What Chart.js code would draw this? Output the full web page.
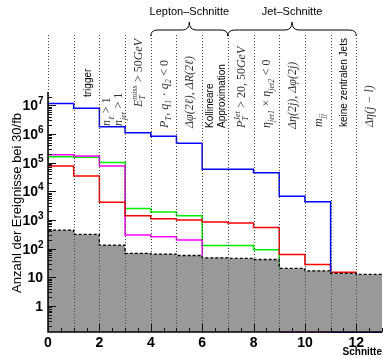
<!DOCTYPE html>
<html>
<head>
<meta charset="utf-8">
<script src="https://cdn.jsdelivr.net/npm/chart.js@4"></script>
<style>
html,body{margin:0;padding:0;background:#fff;}
canvas{display:block;}
</style>
</head>
<body>
<canvas id="c" width="383" height="358"></canvas>
<script>
// ---- data (bin lower edges = cut index) ----
const cuts = [0,1,2,3,4,5,6,7,8,9,10,11,12];
const xTickLabels = ['0','2','4','6','8','10','12'];
const yTickLabels = ['1','10','10^2','10^3','10^4','10^5','10^6','10^7'];
const blueVals    = [1.15e7, 7.8e6, 1.8e6, 1.1e6, 8.4e5, 4.7e5, 5.9e4, 5.9e4, 4.4e4, 6.8e3, 4.3e3, 0, 0];
const redVals     = [7.7e4, 3.4e4, 4.2e3, 1.4e3, 1.1e3, 1.0e3, 850, 790, 550, 63, 28, 15, 8.1];
const greenVals   = [1.6e5, 1.55e5, 1.02e5, 2.5e3, 1.9e3, 1.4e3, 130, 130, 92, 3.4, 3.4, 1.66, 0];
const magentaVals = [1.9e5, 1.7e5, 7.7e4, 300, 260, 200, 15, 15, 3.25, 0, 0, 0, 0];
const grayVals    = [445, 315, 134, 69, 65, 58, 48, 46, 42, 20.6, 17, 13.8, 12.7];

const yTitle = 'Anzahl der Ereignisse bei 30/fb';
const xTitle = 'Schnitte';
const groupTitles = ['Lepton\u2013Schnitte', 'Jet\u2013Schnitte'];

// cut labels: one entry per bin, each a list of text columns made of segments
const cutLabels = [
  null,
  [[{t:'trigger', f:'s'}]],
  [[{t:'n',f:'i'},{sub:'\u2113'},{t:' > 1',f:'r'}], [{t:'n',f:'i'},{sub:'jet'},{t:' > 1',f:'r'}]],
  [[{t:'E',f:'i'},{sub:'T',sup:'miss'},{t:' > 50',f:'r'},{t:'GeV',f:'i'}]],
  [[{t:'P',f:'i'},{sub:'T'},{t:', ',f:'r'},{t:'q',f:'i'},{sub:'1'},{t:' \u00b7 ',f:'r'},{t:'q',f:'i'},{sub:'2'},{t:' < 0',f:'r'}]],
  [[{t:'\u0394\u03c6(2\u2113), \u0394R(2\u2113)',f:'i'}]],
  [[{t:'Kollineare',f:'s'}],[{t:'Approximation',f:'s'}]],
  [[{t:'P',f:'i'},{sub:'T',sup:'Jet'},{t:' > 20, 50',f:'r'},{t:'GeV',f:'i'}]],
  [[{t:'\u03b7',f:'i'},{sub:'jet1'},{t:' \u00d7 ',f:'r'},{t:'\u03b7',f:'i'},{sub:'jet2'},{t:' < 0',f:'r'}]],
  [[{t:'\u0394\u03b7(2j), \u0394\u03c6(2j)',f:'i'}]],
  [[{t:'m',f:'i'},{sub:'jj'}]],
  [[{t:'keine zentralen Jets',f:'s'}]],
  [[{t:'\u0394\u03b7(j \u2212 l)',f:'i'}]]
];

const YMIN = 0.125, YMAX = 2.9e7, XMIN = 0, XMAX = 13;

function hist(vals){
  const pts = cuts.map((c,i)=>({x:c, y: vals[i] > 0 ? vals[i] : YMIN}));
  pts.push({x: cuts[cuts.length-1]+1, y: pts[pts.length-1].y});
  return pts;
}

// layout (not data)
const labelBottom = [0, 97, 126, 107, 128, 128, 128, 128, 128, 129, 127, 127, 127];

function fontFor(f, fs){
  if (f === 's') return fs + 'px "Liberation Sans", Arial, sans-serif';
  if (f === 'r') return fs + 'px "Liberation Serif", "Times New Roman", serif';
  return 'italic ' + fs + 'px "Liberation Serif", "Times New Roman", serif';
}

function drawSegs(ctx, segs, fs){
  let cx = 0;
  for (const s of segs){
    if (s.t !== undefined){
      const size = s.f === 's' ? 10 : fs;
      ctx.font = fontFor(s.f, size);
      ctx.fillStyle = s.f === 's' ? '#000' : '#333';
      ctx.fillText(s.t, cx, 0);
      cx += ctx.measureText(s.t).width;
    } else {
      const fss = Math.round(fs*0.7);
      ctx.font = fontFor('i', fss);
      ctx.fillStyle = '#333';
      let w = 0;
      if (s.sub){ ctx.fillText(s.sub, cx, fs*0.28); w = Math.max(w, ctx.measureText(s.sub).width); }
      if (s.sup){ ctx.fillText(s.sup, cx, -fs*0.42); w = Math.max(w, ctx.measureText(s.sup).width); }
      cx += w + 0.5;
    }
  }
}

const decor = {
  id: 'decor',
  afterDatasetsDraw(chart){
    const ctx = chart.ctx;
    const xs = chart.scales.x, ys = chart.scales.y;
    const a = chart.chartArea;
    ctx.save();
    // dotted cut lines
    ctx.strokeStyle = '#444';
    ctx.lineWidth = 1;
    ctx.setLineDash([1,2]);
    for (const c of cuts){
      const px = Math.round(xs.getPixelForValue(c)) + 0.5;
      ctx.beginPath(); ctx.moveTo(px, 35); ctx.lineTo(px, a.bottom); ctx.stroke();
    }
    ctx.setLineDash([]);
    // axes
    ctx.strokeStyle = '#000';
    ctx.lineWidth = 1.5;
    ctx.beginPath();
    ctx.moveTo(a.left, a.top); ctx.lineTo(a.left, a.bottom); ctx.lineTo(a.right, a.bottom);
    ctx.stroke();
    // y ticks
    ctx.lineWidth = 1;
    ctx.strokeStyle = '#111';
    for (let d = -1; d <= 7; d++){
      for (let m = 1; m <= 9; m++){
        const v = m * Math.pow(10, d);
        if (v < YMIN || v > YMAX) continue;
        const py = Math.round(ys.getPixelForValue(v)) + 0.5;
        const len = m === 1 ? 8 : 4;
        ctx.beginPath(); ctx.moveTo(a.left, py); ctx.lineTo(a.left + len, py); ctx.stroke();
      }
    }
    // x ticks
    for (let v = XMIN; v <= XMAX; v += 0.5){
      const px = Math.round(xs.getPixelForValue(v)) + 0.5;
      const len = (v % 2 === 0) ? 8 : 4;
      ctx.beginPath(); ctx.moveTo(px, a.bottom); ctx.lineTo(px, a.bottom - len); ctx.stroke();
    }
    // y tick labels
    ctx.fillStyle = '#000';
    ctx.textBaseline = 'alphabetic';
    yTickLabels.forEach((lab, i) => {
      const py = ys.getPixelForValue(Math.pow(10, i));
      const parts = lab.split('^');
      ctx.font = 'bold 14px "Liberation Sans", Arial, sans-serif';
      if (parts.length === 1){
        ctx.textAlign = 'right';
        ctx.fillText(parts[0], 43, py + 5);
      } else {
        ctx.textAlign = 'right';
        ctx.fillText(parts[0], 38, py + 5);
        ctx.font = 'bold 10px "Liberation Sans", Arial, sans-serif';
        ctx.textAlign = 'left';
        ctx.fillText(parts[1], 38, py - 1);
      }
    });
    // x tick labels
    ctx.font = 'bold 14px "Liberation Sans", Arial, sans-serif';
    ctx.textAlign = 'center';
    xTickLabels.forEach(lab => {
      const px = xs.getPixelForValue(parseFloat(lab));
      ctx.fillText(lab, px, 347);
    });
    // x title
    ctx.font = 'bold 10px "Liberation Sans", Arial, sans-serif';
    ctx.textAlign = 'right';
    ctx.fillText(xTitle, 382, 355);
    // y title
    ctx.save();
    ctx.translate(21, 113);
    ctx.rotate(-Math.PI/2);
    ctx.font = '13px "Liberation Sans", Arial, sans-serif';
    ctx.textAlign = 'right';
    ctx.fillText(yTitle, 0, 0);
    ctx.restore();
    // cut labels
    ctx.textAlign = 'left';
    cutLabels.forEach((cols, i) => {
      if (!cols) return;
      const cx = xs.getPixelForValue(cuts[i] + 0.5);
      const n = cols.length;
      cols.forEach((segs, j) => {
        const off = (j - (n - 1) / 2) * 12;
        ctx.save();
        ctx.translate(cx + off + 4, labelBottom[i]);
        ctx.rotate(-Math.PI/2);
        drawSegs(ctx, segs, 12);
        ctx.restore();
      });
    });
    // braces
    function brace(x1, x2){
      const xm = (x1 + x2) / 2, y0 = 36, yh = 30, yt = 22, r = 7;
      ctx.beginPath();
      ctx.moveTo(x1, y0);
      ctx.quadraticCurveTo(x1, yh, x1 + r, yh);
      ctx.lineTo(xm - r, yh);
      ctx.quadraticCurveTo(xm, yh, xm, yt);
      ctx.quadraticCurveTo(xm, yh, xm + r, yh);
      ctx.lineTo(x2 - r, yh);
      ctx.quadraticCurveTo(x2, yh, x2, y0);
      ctx.stroke();
    }
    ctx.strokeStyle = '#000';
    ctx.lineWidth = 1;
    const b1a = xs.getPixelForValue(4), b1b = xs.getPixelForValue(7), b2b = xs.getPixelForValue(12);
    brace(b1a, b1b);
    brace(b1b, b2b);
    ctx.font = '11px "Liberation Sans", Arial, sans-serif';
    ctx.textAlign = 'center';
    ctx.fillStyle = '#000';
    ctx.fillText(groupTitles[0], (b1a + b1b) / 2, 15);
    ctx.fillText(groupTitles[1], (b1b + b2b) / 2, 15);
    ctx.restore();
  }
};

const common = {stepped: 'before', pointRadius: 0, borderWidth: 1.5, clip: 4, fill: false};

new Chart(document.getElementById('c'), {
  type: 'line',
  data: {
    datasets: [
      {data: hist(grayVals), stepped: 'before', pointRadius: 0, borderWidth: 1.3, borderColor: '#000', borderDash: [3,2], backgroundColor: '#999999', fill: 'start', clip: 4},
      Object.assign({data: hist(blueVals), borderColor: '#0000ff'}, common),
      Object.assign({data: hist(redVals), borderColor: '#ff0000'}, common),
      Object.assign({data: hist(magentaVals), borderColor: '#ff00ff'}, common),
      Object.assign({data: hist(greenVals), borderColor: '#00ee00'}, common)
    ]
  },
  options: {
    responsive: false,
    animation: false,
    devicePixelRatio: 1,
    layout: {padding: {left: 48, right: 1, top: 92, bottom: 26}},
    plugins: {legend: {display: false}, tooltip: {enabled: false}},
    scales: {
      x: {type: 'linear', min: XMIN, max: XMAX, display: false},
      y: {type: 'logarithmic', min: YMIN, max: YMAX, display: false}
    }
  },
  plugins: [decor]
});
</script>
</body>
</html>
